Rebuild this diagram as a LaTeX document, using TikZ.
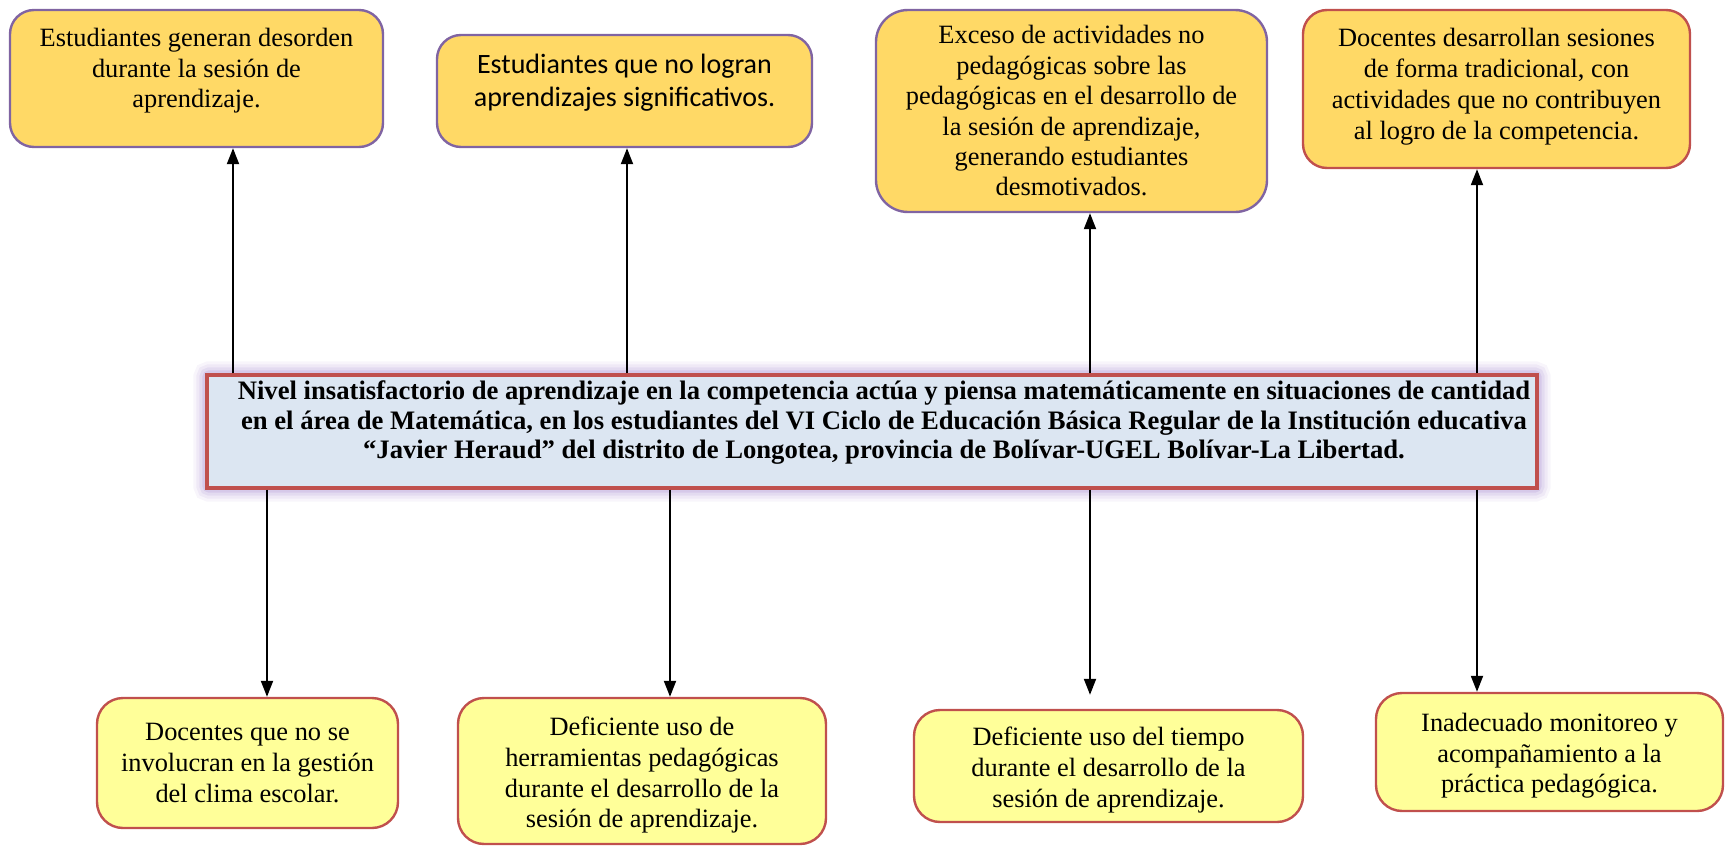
\documentclass[tikz,border=0pt]{standalone}
\usepackage{fontspec}
\setmainfont{Liberation Serif}
\newfontfamily\calibrifont{Carlito}
\usetikzlibrary{arrows.meta,backgrounds}
\definecolor{gold}{RGB}{255,217,102}
\definecolor{lemon}{RGB}{255,255,153}
\definecolor{plum}{RGB}{128,100,162}
\definecolor{brick}{RGB}{192,80,77}
\definecolor{skyfill}{RGB}{220,230,242}
\definecolor{haze}{RGB}{160,130,205}

\begin{document}
\begin{tikzpicture}[x=0.5pt,y=-0.5pt,
  efecto/.style={draw=plum,line width=1.2pt,rounded corners=12pt,fill=gold,
     align=center,inner sep=0pt,font=\fontsize{13.2}{15.2}\selectfont},
  causa/.style={draw=brick,line width=1.2pt,rounded corners=13pt,fill=lemon,
     align=center,inner sep=0pt,font=\fontsize{13.2}{15.4}\selectfont},
  problema/.style={draw=brick,line width=1.7pt,fill=skyfill,align=center,
     inner sep=0pt,font=\bfseries\fontsize{13.33}{14.6}\selectfont},
  arr/.style={line width=1pt,-{Triangle[length=8pt,width=6pt]}}]
\useasboundingbox (0,0) rectangle (1726,846);
% efectos
\node[efecto,minimum width=186.5pt,minimum height=68.5pt] (ef1) at (196.5,78.5)
  {Estudiantes generan desorden\\durante la sesión de\\aprendizaje.\\[-4.8pt]\mbox{}};
\node[efecto,minimum width=187.5pt,minimum height=56pt,
  font=\calibrifont\fontsize{14}{16.5}\selectfont] (ef2) at (624.5,91)
  {Estudiantes que no logran\\aprendizajes significativos.\\[-5.9pt]\mbox{}};
\node[efecto,minimum width=195.5pt,minimum height=101pt,rounded corners=16pt] (ef3) at (1071.5,111)
  {Exceso de actividades no\\pedagógicas sobre las\\pedagógicas en el desarrollo de\\la sesión de aprendizaje,\\generando estudiantes\\desmotivados.};
\node[efecto,draw=brick,minimum width=193.5pt,minimum height=79pt,
  font=\fontsize{13.2}{15.5}\selectfont] (ef4) at (1496.5,89)
  {Docentes desarrollan sesiones\\de forma tradicional, con\\actividades que no contribuyen\\al logro de la competencia.\\[-10.4pt]\mbox{}};
% problema central
\node[problema,minimum width=665pt,minimum height=56.5pt] (prob) at (872,431.5)
  {\hspace*{12pt}Nivel insatisfactorio de aprendizaje en la competencia actúa y piensa matemáticamente en situaciones de cantidad\\
   \hspace*{12pt}en el área de Matemática, en los estudiantes del VI Ciclo de Educación Básica Regular de la Institución educativa\\
   \hspace*{12pt}“Javier Heraud” del distrito de Longotea, provincia de Bolívar-UGEL Bolívar-La Libertad.\\[-2.8pt]\mbox{}};
\begin{scope}[on background layer]
\foreach \w/\o in {12/0.08,9/0.1,6/0.14,3/0.2}
  \draw[haze,line width=\w pt,opacity=\o,rounded corners=2pt] (prob.south west) rectangle (prob.north east);
\end{scope}
% causas
\node[causa,minimum width=150.5pt,minimum height=65pt] (ca1) at (247.5,763)
  {Docentes que no se\\involucran en la gestión\\del clima escolar.};
\node[causa,minimum width=184pt,minimum height=73pt] (ca2) at (642,771)
  {\mbox{}\\[-1.8pt]Deficiente uso de\\herramientas pedagógicas\\durante el desarrollo de la\\sesión de aprendizaje.};
\node[causa,minimum width=194.5pt,minimum height=56pt] (ca3) at (1108.5,766)
  {\mbox{}\\[-1.8pt]Deficiente uso del tiempo\\durante el desarrollo de la\\sesión de aprendizaje.};
\node[causa,minimum width=173.5pt,minimum height=59pt] (ca4) at (1549.5,752)
  {\mbox{}\\[-2.5pt]Inadecuado monitoreo y\\acompañamiento a la\\práctica pedagógica.};
% flechas
\foreach \xx/\nn in {233/ef1,627/ef2,1090/ef3,1477/ef4}
  \draw[arr] (\xx,0 |- prob.north) -- (\xx,0 |- \nn.south);
\foreach \xx/\nn in {267/ca1,670/ca2,1477/ca4}
  \draw[arr] (\xx,0 |- prob.south) -- (\xx,0 |- \nn.north);
\draw[arr,shorten >=7pt] (1090,0 |- prob.south) -- (1090,0 |- ca3.north);
\end{tikzpicture}
\end{document}
